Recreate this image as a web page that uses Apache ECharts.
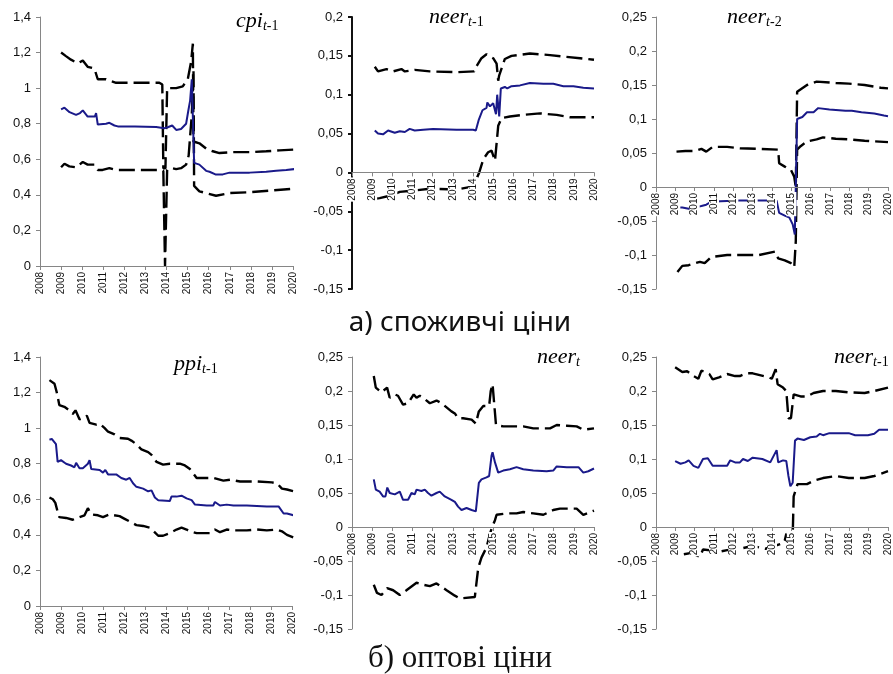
<!DOCTYPE html>
<html>
<head>
<meta charset="utf-8">
<script src="https://cdn.jsdelivr.net/npm/echarts@6/dist/echarts.min.js"></script>
<style>
  html, body { margin: 0; padding: 0; background: #fff; }
  #chart { width: 893px; height: 674px; }
</style>
</head>
<body>
<div id="chart"></div>
<script>
// x values are decimal years, y values are the estimated coefficient

// --- а) споживчі ціни ---
const cpiMid = [[2009.0,0.88],[2009.16,0.89],[2009.4,0.865],[2009.71,0.85],[2009.9,0.86],[2010.03,0.875],[2010.26,0.84],[2010.6,0.84],[2010.66,0.86],[2010.74,0.795],[2011.13,0.80],[2011.29,0.805],[2011.53,0.79],[2011.69,0.785],[2012.5,0.785],[2013.51,0.782],[2013.9,0.775],[2014.06,0.78],[2014.27,0.79],[2014.46,0.765],[2014.69,0.77],[2014.93,0.80],[2015.03,0.87],[2015.12,0.93],[2015.2,1.05],[2015.31,0.58],[2015.56,0.57],[2015.88,0.535],[2016.04,0.53],[2016.32,0.515],[2016.67,0.515],[2016.99,0.525],[2017.94,0.525],[2018.73,0.53],[2019.2,0.535],[2019.68,0.54],[2020.07,0.545]];
const cpiUp = [[2009.0,1.20],[2009.23,1.18],[2009.47,1.16],[2009.79,1.14],[2010.03,1.155],[2010.26,1.12],[2010.58,1.11],[2010.74,1.05],[2011.13,1.05],[2011.61,1.03],[2013.66,1.03],[2013.8,1.02],[2013.85,0.55],[2013.95,0.55],[2014.03,1.0],[2014.46,1.0],[2014.77,1.01],[2015.01,1.05],[2015.17,1.15],[2015.25,1.25],[2015.28,0.70],[2015.56,0.69],[2015.88,0.66],[2016.2,0.645],[2016.51,0.635],[2017.15,0.64],[2017.94,0.64],[2018.73,0.645],[2019.36,0.65],[2020.07,0.655]];
const cpiLow = [[2009.0,0.555],[2009.16,0.575],[2009.39,0.56],[2009.71,0.555],[2010.03,0.585],[2010.26,0.57],[2010.58,0.57],[2010.74,0.54],[2010.97,0.54],[2011.29,0.55],[2011.61,0.54],[2013.66,0.54],[2013.85,0.535],[2013.93,0.0],[2014.03,0.54],[2014.27,0.55],[2014.46,0.545],[2014.69,0.55],[2014.93,0.57],[2015.05,0.62],[2015.2,0.85],[2015.28,1.1],[2015.31,0.45],[2015.56,0.42],[2015.88,0.41],[2016.35,0.395],[2016.99,0.41],[2017.94,0.415],[2019.04,0.425],[2020.07,0.435]];

const neer1Mid = [[2009.13,0.054],[2009.29,0.050],[2009.54,0.049],[2009.79,0.054],[2010.12,0.051],[2010.37,0.053],[2010.62,0.052],[2010.86,0.056],[2011.11,0.054],[2011.53,0.055],[2012.02,0.056],[2013.18,0.055],[2014.01,0.055],[2014.14,0.054],[2014.29,0.068],[2014.47,0.080],[2014.67,0.083],[2014.71,0.090],[2014.84,0.085],[2015.0,0.089],[2015.14,0.075],[2015.2,0.100],[2015.3,0.072],[2015.38,0.108],[2015.58,0.110],[2015.7,0.108],[2015.91,0.111],[2016.33,0.112],[2016.82,0.115],[2017.49,0.114],[2017.98,0.114],[2018.48,0.111],[2018.98,0.111],[2019.47,0.109],[2020.0,0.108]];
const neer1Up = [[2009.13,0.136],[2009.29,0.130],[2009.71,0.133],[2010.04,0.130],[2010.45,0.133],[2010.62,0.130],[2011.11,0.132],[2011.86,0.130],[2013.18,0.129],[2014.06,0.130],[2014.18,0.137],[2014.42,0.147],[2014.67,0.152],[2015.0,0.147],[2015.17,0.140],[2015.25,0.118],[2015.3,0.125],[2015.58,0.146],[2015.91,0.150],[2016.82,0.153],[2017.82,0.151],[2018.48,0.149],[2019.31,0.147],[2020.0,0.145]];
const neer1Low = [[2009.13,-0.034],[2009.37,-0.033],[2009.87,-0.030],[2010.37,-0.025],[2011.2,-0.023],[2011.86,-0.021],[2013.18,-0.022],[2014.01,-0.018],[2014.31,0.0],[2014.51,0.017],[2014.75,0.026],[2014.92,0.028],[2015.09,0.015],[2015.25,0.060],[2015.42,0.070],[2015.83,0.072],[2016.49,0.074],[2017.32,0.076],[2018.15,0.074],[2018.81,0.071],[2020.0,0.071]];

const neer2Mid = [[2009.11,-0.030],[2009.36,-0.030],[2009.69,-0.032],[2010.35,-0.028],[2010.6,-0.026],[2010.85,-0.022],[2011.34,-0.021],[2012.34,-0.020],[2013.33,-0.020],[2014.24,-0.020],[2014.37,-0.038],[2014.66,-0.042],[2014.9,-0.045],[2015.07,-0.055],[2015.18,-0.070],[2015.3,0.100],[2015.57,0.103],[2015.81,0.110],[2016.15,0.110],[2016.39,0.116],[2016.97,0.114],[2017.8,0.112],[2018.13,0.112],[2018.63,0.110],[2019.29,0.108],[2019.79,0.105],[2020.0,0.104]];
const neer2Up = [[2009.06,0.052],[2009.52,0.053],[2010.02,0.053],[2010.35,0.056],[2010.6,0.052],[2010.93,0.059],[2011.68,0.059],[2012.34,0.057],[2013.33,0.056],[2014.32,0.055],[2014.37,0.035],[2014.66,0.030],[2014.98,0.025],[2015.15,0.015],[2015.23,0.0],[2015.3,0.140],[2015.81,0.150],[2016.31,0.155],[2017.3,0.153],[2017.97,0.152],[2018.79,0.150],[2019.62,0.146],[2020.0,0.145]];
const neer2Low = [[2009.11,-0.125],[2009.36,-0.116],[2009.69,-0.115],[2010.27,-0.110],[2010.52,-0.112],[2010.85,-0.103],[2011.68,-0.100],[2012.34,-0.100],[2013.33,-0.100],[2014.16,-0.095],[2014.32,-0.105],[2014.66,-0.108],[2014.98,-0.112],[2015.15,-0.118],[2015.23,-0.080],[2015.3,0.055],[2015.48,0.060],[2015.81,0.067],[2016.31,0.070],[2016.64,0.073],[2017.3,0.071],[2017.97,0.070],[2018.79,0.068],[2020.0,0.066]];

// --- б) оптові ціни ---
const ppiMid = [[2008.45,0.935],[2008.56,0.94],[2008.76,0.91],[2008.84,0.81],[2008.92,0.80],[2009.0,0.82],[2009.24,0.80],[2009.48,0.79],[2009.64,0.78],[2009.72,0.805],[2009.88,0.775],[2010.04,0.775],[2010.28,0.80],[2010.36,0.82],[2010.44,0.77],[2010.84,0.765],[2011.0,0.75],[2011.11,0.765],[2011.24,0.74],[2011.63,0.74],[2011.87,0.72],[2012.11,0.71],[2012.27,0.72],[2012.43,0.69],[2012.59,0.67],[2012.91,0.66],[2013.15,0.645],[2013.31,0.65],[2013.47,0.61],[2013.63,0.595],[2014.18,0.59],[2014.26,0.615],[2014.5,0.615],[2014.74,0.62],[2014.98,0.605],[2015.22,0.595],[2015.38,0.57],[2015.94,0.565],[2016.25,0.565],[2016.33,0.585],[2016.57,0.565],[2016.89,0.57],[2017.21,0.565],[2017.85,0.565],[2018.8,0.56],[2019.36,0.56],[2019.44,0.55],[2019.6,0.52],[2019.76,0.52],[2019.84,0.525],[2020.08,0.51]];
const ppiUp = [[2008.45,1.27],[2008.69,1.25],[2008.8,1.20],[2008.92,1.13],[2009.16,1.12],[2009.4,1.10],[2009.56,1.08],[2009.69,1.10],[2009.88,1.05],[2010.12,1.06],[2010.23,1.07],[2010.36,1.03],[2010.68,1.02],[2010.84,1.025],[2011.08,1.00],[2011.24,0.98],[2011.55,0.965],[2011.79,0.945],[2012.19,0.94],[2012.35,0.93],[2012.59,0.91],[2012.83,0.88],[2013.15,0.865],[2013.31,0.85],[2013.39,0.86],[2013.55,0.81],[2013.86,0.795],[2014.18,0.80],[2014.66,0.80],[2014.9,0.79],[2015.14,0.77],[2015.22,0.76],[2015.46,0.72],[2016.25,0.72],[2016.73,0.705],[2017.05,0.71],[2017.53,0.70],[2018.33,0.70],[2019.04,0.695],[2019.28,0.69],[2019.52,0.66],[2019.76,0.655],[2020.08,0.645]];
const ppiLow = [[2008.45,0.61],[2008.61,0.60],[2008.73,0.58],[2008.84,0.53],[2008.92,0.50],[2009.24,0.495],[2009.56,0.485],[2009.88,0.50],[2010.12,0.51],[2010.28,0.55],[2010.44,0.515],[2010.76,0.51],[2011.0,0.50],[2011.31,0.515],[2011.79,0.505],[2012.03,0.49],[2012.27,0.475],[2012.59,0.455],[2012.91,0.45],[2013.23,0.44],[2013.42,0.42],[2013.63,0.395],[2013.86,0.395],[2014.18,0.41],[2014.5,0.43],[2014.74,0.44],[2014.98,0.43],[2015.14,0.42],[2015.46,0.41],[2016.1,0.41],[2016.33,0.43],[2016.57,0.415],[2016.89,0.43],[2017.21,0.425],[2017.85,0.425],[2018.33,0.43],[2018.8,0.425],[2019.28,0.43],[2019.52,0.42],[2019.76,0.40],[2020.08,0.385]];

const neer0Mid = [[2009.08,0.070],[2009.18,0.055],[2009.37,0.052],[2009.54,0.045],[2009.66,0.045],[2009.75,0.058],[2009.87,0.050],[2010.12,0.048],[2010.37,0.052],[2010.53,0.040],[2010.78,0.040],[2010.95,0.050],[2011.11,0.048],[2011.2,0.055],[2011.44,0.053],[2011.61,0.055],[2011.77,0.050],[2011.94,0.046],[2012.19,0.050],[2012.35,0.052],[2012.6,0.045],[2012.93,0.040],[2013.1,0.037],[2013.26,0.030],[2013.43,0.025],[2013.68,0.028],[2013.93,0.025],[2014.01,0.027],[2014.14,0.023],[2014.29,0.065],[2014.42,0.070],[2014.67,0.073],[2014.8,0.075],[2014.92,0.105],[2014.97,0.110],[2015.09,0.095],[2015.25,0.080],[2015.5,0.083],[2015.83,0.085],[2016.16,0.088],[2016.49,0.085],[2016.99,0.083],[2017.65,0.082],[2017.98,0.083],[2018.15,0.089],[2018.65,0.088],[2019.23,0.088],[2019.47,0.080],[2019.72,0.082],[2020.0,0.086]];
const neer0Up = [[2009.08,0.222],[2009.18,0.205],[2009.46,0.198],[2009.74,0.205],[2009.87,0.190],[2010.12,0.195],[2010.28,0.193],[2010.53,0.180],[2010.78,0.182],[2011.06,0.195],[2011.2,0.190],[2011.36,0.193],[2011.53,0.190],[2011.86,0.182],[2012.19,0.186],[2012.44,0.182],[2012.93,0.170],[2013.1,0.167],[2013.26,0.160],[2013.51,0.160],[2013.93,0.158],[2014.14,0.152],[2014.29,0.170],[2014.51,0.178],[2014.8,0.178],[2014.88,0.200],[2014.97,0.210],[2015.14,0.150],[2015.5,0.148],[2016.16,0.148],[2016.49,0.148],[2016.99,0.145],[2017.82,0.145],[2018.15,0.150],[2018.65,0.149],[2019.14,0.148],[2019.47,0.143],[2020.0,0.145]];
const neer0Low = [[2009.08,-0.085],[2009.24,-0.097],[2009.46,-0.100],[2009.74,-0.090],[2010.04,-0.093],[2010.37,-0.100],[2010.7,-0.093],[2011.2,-0.082],[2011.53,-0.085],[2011.86,-0.087],[2012.19,-0.083],[2012.69,-0.093],[2013.1,-0.101],[2013.35,-0.105],[2014.09,-0.103],[2014.26,-0.060],[2014.42,-0.045],[2014.67,-0.030],[2014.84,-0.010],[2014.95,0.0],[2015.09,0.010],[2015.17,0.018],[2015.66,0.020],[2016.16,0.020],[2016.49,0.022],[2016.99,0.020],[2017.49,0.018],[2017.98,0.025],[2018.31,0.027],[2019.14,0.027],[2019.47,0.018],[2020.0,0.024]];

const neerP1Mid = [[2008.99,0.097],[2009.27,0.093],[2009.52,0.095],[2009.69,0.098],[2009.94,0.090],[2010.19,0.087],[2010.27,0.085],[2010.43,0.100],[2010.68,0.101],[2010.93,0.090],[2011.34,0.090],[2011.68,0.090],[2011.84,0.098],[2012.09,0.095],[2012.34,0.095],[2012.5,0.100],[2012.75,0.097],[2013.0,0.102],[2013.5,0.100],[2013.91,0.095],[2014.24,0.113],[2014.32,0.095],[2014.57,0.098],[2014.74,0.097],[2014.85,0.075],[2014.95,0.060],[2015.07,0.065],[2015.19,0.127],[2015.32,0.130],[2015.65,0.128],[2015.98,0.132],[2016.31,0.133],[2016.48,0.137],[2016.64,0.135],[2016.97,0.138],[2017.97,0.138],[2018.3,0.135],[2018.96,0.135],[2019.29,0.137],[2019.54,0.143],[2020.0,0.143]];
const neerP1Up = [[2008.99,0.235],[2009.36,0.228],[2009.61,0.229],[2009.94,0.222],[2010.19,0.218],[2010.35,0.230],[2010.76,0.225],[2010.93,0.217],[2011.26,0.220],[2011.68,0.225],[2012.09,0.222],[2012.34,0.222],[2012.67,0.226],[2013.0,0.226],[2013.83,0.220],[2013.99,0.218],[2014.19,0.232],[2014.29,0.210],[2014.57,0.205],[2014.74,0.200],[2014.85,0.160],[2014.98,0.160],[2015.12,0.195],[2015.48,0.192],[2015.81,0.192],[2016.15,0.197],[2016.64,0.200],[2017.3,0.200],[2017.97,0.198],[2018.79,0.197],[2019.29,0.200],[2020.0,0.205]];
const neerP1Low = [[2009.44,-0.040],[2009.85,-0.038],[2010.27,-0.044],[2010.43,-0.033],[2011.34,-0.036],[2011.68,-0.034],[2012.34,-0.032],[2013.0,-0.028],[2013.66,-0.032],[2014.57,-0.024],[2014.66,-0.020],[2014.74,-0.010],[2015.07,-0.015],[2015.12,0.045],[2015.32,0.063],[2015.81,0.063],[2016.15,0.068],[2016.64,0.072],[2017.3,0.075],[2017.97,0.072],[2018.79,0.072],[2019.29,0.075],[2020.0,0.082]];

const yearRange = [2008, 2020];
const captions = ['а) споживчі ціни', 'б) оптові ціни'];

// panel layout: box = [left, top, width, height]
const panels = [
  { title: ['cpi', 't', '-1'],  mid: cpiMid,    up: cpiUp,    low: cpiLow,    y: [0, 1.4, 0.2],      box: [40, 17, 253, 249],  at: [236, 10],  axisColor: '#868686', axisWidth: 1 },
  { title: ['neer', 't', '-1'], mid: neer1Mid,  up: neer1Up,  low: neer1Low,  y: [-0.15, 0.2, 0.05],  box: [352, 17, 242, 272], at: [429, 6],   axisColor: '#111',    axisWidth: 2 },
  { title: ['neer', 't', '-2'], mid: neer2Mid,  up: neer2Up,  low: neer2Low,  y: [-0.15, 0.25, 0.05], box: [656, 17, 241, 272], at: [727, 6],   axisColor: '#868686', axisWidth: 1 },
  { title: ['ppi', 't', '-1'],  mid: ppiMid,    up: ppiUp,    low: ppiLow,    y: [0, 1.4, 0.2],      box: [40, 357, 252, 249], at: [174, 353], axisColor: '#868686', axisWidth: 1 },
  { title: ['neer', 't', ''],   mid: neer0Mid,  up: neer0Up,  low: neer0Low,  y: [-0.15, 0.25, 0.05], box: [352, 357, 242, 272], at: [537, 346], axisColor: '#868686', axisWidth: 1 },
  { title: ['neer', 't', '-1'], mid: neerP1Mid, up: neerP1Up, low: neerP1Low, y: [-0.15, 0.25, 0.05], box: [656, 357, 241, 272], at: [834, 346], axisColor: '#868686', axisWidth: 1 }
];

const fmt = v => String(+v.toFixed(2)).replace('.', ',');
const dashed = { color: '#000', width: 2.4, type: [16, 6] };
const solid = { color: '#1a1a8a', width: 2 };

const grid = [], xAxis = [], yAxis = [], series = [], graphic = [];
panels.forEach((p, i) => {
  grid.push({ left: p.box[0], top: p.box[1], width: p.box[2], height: p.box[3] });
  // the year axis crosses the value axis at zero, labels hang below it
  const zeroShift = -p.box[3] * (0 - p.y[0]) / (p.y[1] - p.y[0]);
  xAxis.push({
    type: 'value', gridIndex: i, min: yearRange[0], max: yearRange[1], interval: 1, z: 5,
    position: 'bottom', offset: zeroShift,
    axisLine: { onZero: false, lineStyle: { color: '#868686', width: 1 } },
    axisTick: { length: 4, lineStyle: { color: '#868686' } },
    splitLine: { show: false },
    axisLabel: {
      rotate: 90, fontSize: 10, fontFamily: 'Liberation Sans', color: '#111', margin: 5,
      backgroundColor: '#fff', padding: [0, 1, 0, 1], formatter: v => String(v)
    }
  });
  yAxis.push({
    type: 'value', gridIndex: i, min: p.y[0], max: p.y[1], interval: p.y[2],
    axisLine: { show: true, onZero: false, lineStyle: { color: p.axisColor, width: p.axisWidth } },
    axisTick: { show: true, length: 4, lineStyle: { color: p.axisColor, width: p.axisWidth } },
    splitLine: { show: false },
    axisLabel: { fontSize: 13, fontFamily: 'Liberation Sans', color: '#111', margin: 9, formatter: fmt }
  });
  [[p.up, dashed], [p.low, dashed], [p.mid, solid]].forEach(([d, ls]) => {
    series.push({
      type: 'line', xAxisIndex: i, yAxisIndex: i, data: d, symbol: 'none',
      lineStyle: ls, z: 2, animation: false
    });
  });
  graphic.push({
    type: 'text', left: p.at[0], top: p.at[1], z: 10,
    style: {
      text: '{a|' + p.title[0] + '}{b|' + p.title[1] + '}' + (p.title[2] ? '{c|' + p.title[2] + '}' : ''),
      rich: {
        a: { fontFamily: 'Liberation Serif', fontStyle: 'italic', fontSize: 22, lineHeight: 23, padding: [0, 0, 5, 0], verticalAlign: 'top', fill: '#000' },
        b: { fontFamily: 'Liberation Serif', fontStyle: 'italic', fontSize: 14, lineHeight: 15, verticalAlign: 'bottom', fill: '#000' },
        c: { fontFamily: 'Liberation Serif', fontSize: 14, lineHeight: 15, verticalAlign: 'bottom', fill: '#000' }
      }
    }
  });
});

graphic.push({
  type: 'text', x: 460, y: 323, z: 10,
  style: { text: captions[0], font: '28px "Noto Sans"', fill: '#111', align: 'center', verticalAlign: 'middle' }
});
graphic.push({
  type: 'text', x: 460, y: 659, z: 10,
  style: { text: captions[1], font: '31px "Liberation Serif"', fill: '#111', align: 'center', verticalAlign: 'middle' }
});

const chart = echarts.init(document.getElementById('chart'));
chart.setOption({ animation: false, grid, xAxis, yAxis, series, graphic });
</script>
</body>
</html>
